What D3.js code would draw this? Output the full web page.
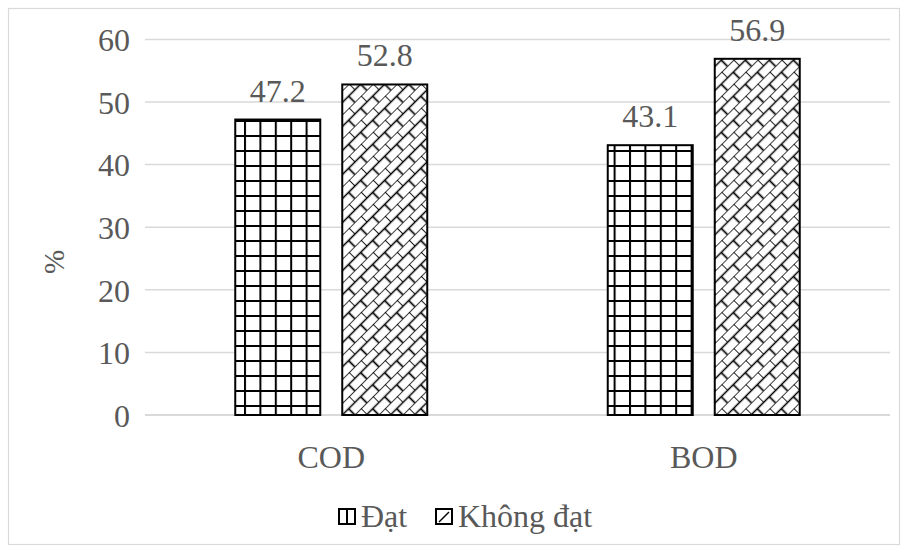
<!DOCTYPE html>
<html><head><meta charset="utf-8">
<script src="https://cdn.jsdelivr.net/npm/d3@7"></script>
<style>body{margin:0;background:#fff}svg{display:block}</style>
</head><body>
<script>
const categories = ["COD", "BOD"];
const seriesNames = ["Đạt", "Không đạt"];
const datValues = [47.2, 43.1];
const khongDatValues = [52.8, 56.9];
const yTicks = [0, 10, 20, 30, 40, 50, 60];
const yTitle = "%";

const FONT = "'Liberation Serif', 'Times New Roman', serif";
const FS = 32;
const W = 907, H = 552;
const svg = d3.select("body").append("svg").attr("width", W).attr("height", H)
  .style("font-family", FONT);
const defs = svg.append("defs");

// Large grid pattern
const gs = 15.4;
const pg = defs.append("pattern").attr("id", "grid").attr("patternUnits", "userSpaceOnUse")
  .attr("width", gs).attr("height", 15).attr("x", 244).attr("y", 0);
pg.append("rect").attr("width", gs).attr("height", 15).attr("fill", "#fff");
pg.append("rect").attr("x", 0).attr("y", 0).attr("width", 2).attr("height", 15).attr("fill", "#000");
pg.append("rect").attr("x", 0).attr("y", 0).attr("width", gs).attr("height", 2).attr("fill", "#000");

// Diagonal brick pattern
const h = 8.5, bw = 17;
const pb = defs.append("pattern").attr("id", "brick").attr("patternUnits", "userSpaceOnUse")
  .attr("width", bw).attr("height", 2 * h).attr("patternTransform", "rotate(-45)");
pb.append("rect").attr("width", bw).attr("height", 2 * h).attr("fill", "#fff");
pb.append("path").attr("d", `M0,0H${bw}M0,${h}H${bw}M0,0V${h}M${bw / 2},${h}V${2 * h}`)
  .attr("stroke", "#000").attr("stroke-width", 1.7).attr("fill", "none");

// border
svg.append("rect").attr("x", 8.5).attr("y", 8.5).attr("width", 891).attr("height", 536)
  .attr("fill", "none").attr("stroke", "#d9d9d9").attr("stroke-width", 1.2);

const x0 = d3.scaleBand().domain(categories).range([145, 890]);
const x1 = d3.scaleBand().domain(seriesNames).range([0, 192]).paddingInner(22 / 107);
const y = d3.scaleLinear().domain([0, 60]).range([415, 39.4]);

// gridlines
svg.append("g").selectAll("line").data(yTicks).join("line")
  .attr("x1", 145).attr("x2", 890).attr("y1", d => y(d)).attr("y2", d => y(d))
  .attr("stroke", "#d9d9d9").attr("stroke-width", d => d === 0 ? 2 : 1.5);

// y axis labels
const yAxis = d3.axisLeft(y).tickValues(yTicks).tickSize(0).tickPadding(0);
const ga = svg.append("g").attr("transform", "translate(130,0)").call(yAxis)
  .attr("font-family", FONT).attr("font-size", FS);
ga.select(".domain").remove();
ga.selectAll("text").attr("fill", "#595959").attr("dy", "0.35em");

svg.append("text").attr("transform", "translate(64,262) rotate(-90)")
  .attr("text-anchor", "middle").attr("font-size", 29).attr("fill", "#595959")
  .attr("font-family", FONT).text(yTitle);

// x labels
const gx = svg.append("g").attr("transform", "translate(0,415)")
  .call(d3.axisBottom(x0).tickSize(0).tickPadding(0))
  .attr("font-family", FONT).attr("font-size", FS);
gx.select(".domain").remove();
gx.selectAll("text").attr("fill", "#595959").attr("dy", "1.65em");

const rows = [];
categories.forEach((c, i) => {
  rows.push({ c, s: seriesNames[0], v: datValues[i], fill: "url(#grid)" });
  rows.push({ c, s: seriesNames[1], v: khongDatValues[i], fill: "url(#brick)" });
});
const off = (x0.bandwidth() - 192) / 2;
svg.append("g").selectAll("rect").data(rows).join("rect")
  .attr("x", d => x0(d.c) + off + x1(d.s))
  .attr("y", d => y(d.v))
  .attr("width", x1.bandwidth())
  .attr("height", d => y(0) - y(d.v))
  .attr("fill", d => d.fill).attr("stroke", "#000").attr("stroke-width", 2);

svg.append("g").selectAll("text").data(rows).join("text")
  .attr("x", d => x0(d.c) + off + x1(d.s) + x1.bandwidth() / 2)
  .attr("y", d => y(d.v) - 18)
  .attr("text-anchor", "middle").attr("font-size", FS).attr("fill", "#595959")
  .attr("font-family", FONT)
  .text(d => d.v.toFixed(1));

// legend
const legend = [
  { name: seriesNames[0], fill: "url(#grid)", x: 339 },
  { name: seriesNames[1], fill: "url(#brick)", x: 436 }
];
const lg = svg.append("g");
legend.forEach(l => {
  lg.append("rect").attr("x", l.x).attr("y", 509).attr("width", 16).attr("height", 15)
    .attr("fill", "#fff").attr("stroke", "#000").attr("stroke-width", 2);
  if (l.fill === "url(#grid)") {
    lg.append("line").attr("x1", l.x + 8).attr("x2", l.x + 8).attr("y1", 509).attr("y2", 524)
      .attr("stroke", "#000").attr("stroke-width", 2);
  } else {
    lg.append("line").attr("x1", l.x + 3).attr("x2", l.x + 13).attr("y1", 522).attr("y2", 512)
      .attr("stroke", "#000").attr("stroke-width", 1.5);
  }
  lg.append("text").attr("x", l.x + 22).attr("y", 527).attr("font-size", FS)
    .attr("fill", "#595959").attr("font-family", FONT).text(l.name);
});
</script>
</body></html>
